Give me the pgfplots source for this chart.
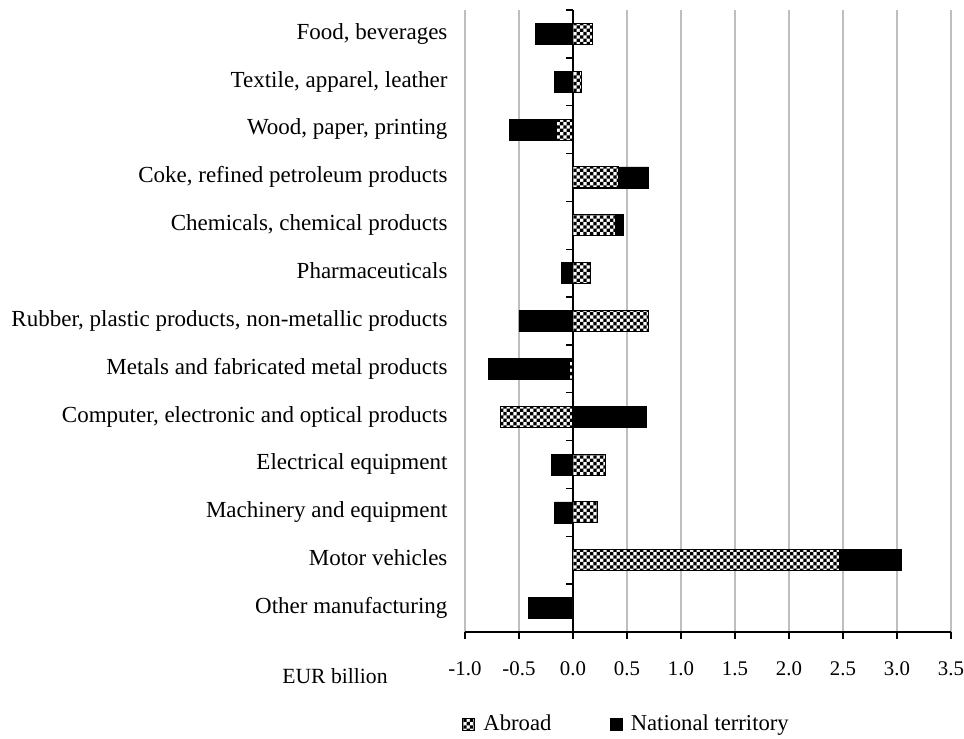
\documentclass[border=0pt]{standalone}
\usepackage{pgfplots}
\pgfplotsset{compat=1.18}
\usepackage{pgfplotstable}
\usetikzlibrary{patterns}
\usepackage{fontspec}
\setmainfont{Liberation Serif}

% small checker for the "Abroad" bars
\pgfdeclarepatternformonly{chk}{\pgfqpoint{-0.1pt}{-0.1pt}}{\pgfqpoint{4.1pt}{4.1pt}}{\pgfqpoint{4pt}{4pt}}{%
  \pgfpathrectangle{\pgfpointorigin}{\pgfqpoint{2pt}{2pt}}%
  \pgfpathrectangle{\pgfqpoint{2pt}{2pt}}{\pgfqpoint{2pt}{2pt}}%
  \pgfusepath{fill}}

% y: 12 = Food ... 0 = Other manufacturing
% abroad = Abroad bar end, natend = where the National territory bar ends
\pgfplotstableread{
y  abroad natend
12  0.18  -0.35
11  0.08  -0.17
10 -0.15  -0.59
9   0.42   0.70
8   0.39   0.47
7   0.16  -0.11
6   0.70  -0.50
5  -0.03  -0.78
4  -0.67   0.68
3   0.30  -0.20
2   0.23  -0.17
1   2.47   3.04
0   0.00  -0.41
}\datatable

\begin{document}
\fontsize{13pt}{15pt}\selectfont
\begin{tikzpicture}
\begin{axis}[
  name=ax,
  scale only axis,
  width=291.6pt, height=373.2pt,
  xmin=-1, xmax=3.5,
  ymin=-0.5, ymax=12.5,
  clip=false,
  axis x line*=bottom,
  axis y line*=left,
  y axis line style={draw=none},
  x axis line style={black, line width=0.8pt, -},
  xtick={-1,-0.5,...,3.5},
  xtick align=outside,
  major tick length=4pt,
  xtick style={black, line width=0.8pt},
  ytick={0,...,12},
  ytick style={draw=none},
  yticklabels={Other manufacturing, Motor vehicles, Machinery and equipment,
    Electrical equipment, {Computer, electronic and optical products},
    Metals and fabricated metal products,
    {Rubber, plastic products, non-metallic products}, Pharmaceuticals,
    {Chemicals, chemical products}, {Coke, refined petroleum products},
    {Wood, paper, printing}, {Textile, apparel, leather}, {Food, beverages}},
  yticklabel style={xshift=-6pt, font=\fontsize{13.8pt}{16pt}\selectfont},
  typeset ticklabels with strut,
  xticklabel style={yshift=-7pt, inner xsep=0pt, font=\fontsize{12.5pt}{15pt}\selectfont,
    /pgf/number format/fixed,
    /pgf/number format/fixed zerofill, /pgf/number format/precision=1},
  /pgf/number format/assume math mode=true,
  xmajorgrids,
  grid style={black!25, line width=0.9pt},
  extra x ticks={0},
  extra x tick labels={},
  extra x tick style={grid style={black, line width=0.8pt}},
  legend style={draw=none, at={(0.334,-0.148)}, anchor=center,
    legend columns=-1, inner sep=1pt, font=\fontsize{13.6pt}{15pt}\selectfont,
    /tikz/every odd column/.append style={column sep=3pt},
    /tikz/every even column/.append style={column sep=33pt}},
  legend image code/.code={\draw[#1] (0pt,-3.6pt) rectangle (7.2pt,3.6pt);},
]
\addlegendimage{draw=black, fill=white, postaction={pattern=chk}}
\addlegendentry{Abroad}
\addlegendimage{draw=black, fill=black}
\addlegendentry{National territory}

\addplot[xbar, bar width=12.6pt, bar shift=0pt, draw=black, fill=black, forget plot]
  table[x=natend, y=y] {\datatable};
\addplot[xbar, bar width=12.6pt, bar shift=0pt, draw=black, line width=0.6pt,
  fill=white, postaction={pattern=chk}, forget plot]
  table[x=abroad, y=y] {\datatable};

\pgfplotsinvokeforeach{-0.5,0.5,1.5,2.5,3.5,4.5,5.5,6.5,7.5,8.5,9.5,10.5,11.5,12.5}{
  \draw[black, line width=0.8pt] (axis cs:0,#1) -- ++(-4pt,0pt);
}
\node at (rel axis cs:0,0) [xshift=-78pt, yshift=-26.4pt] {EUR billion};
\end{axis}
\path ([shift={(-279pt,-64pt)}]ax.south west) rectangle ([shift={(6pt,6pt)}]ax.north east);
\end{tikzpicture}
\end{document}
